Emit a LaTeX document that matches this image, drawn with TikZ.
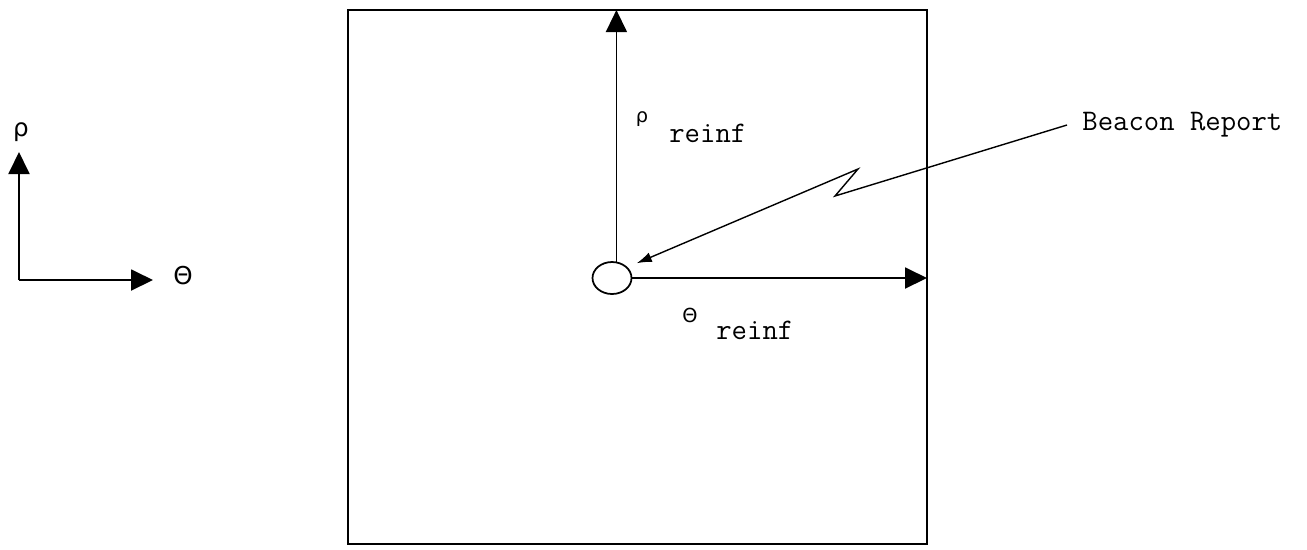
\documentclass[tikz,border=0pt]{standalone}
\usepackage{fontspec}
\newfontfamily\greekfont{DejaVu Sans}
\usetikzlibrary{shapes.geometric, positioning, arrows.meta, calc}

\begin{document}
\begin{tikzpicture}[
    x=0.02cm, y=-0.02cm,
    axis/.style={line width=1.1pt, -{Triangle[length=0.44cm, width=0.42cm]}},
    leader/.style={line width=0.8pt, -{Latex[length=0.3cm, width=0.2cm]}},
    txt/.style={font=\ttfamily\fontsize{17}{19}\selectfont, inner sep=0pt},
    greek/.style={font=\greekfont\fontsize{11}{13}\selectfont, inner sep=0pt},
]
    \useasboundingbox (0,0) rectangle (1307,549);

    % Small reference axes on the left
    \coordinate (origin) at (19,280);
    \coordinate (rho_end) at (19,152);
    \coordinate (theta_end) at (153,280);
    \draw[axis] (origin) -- (rho_end);
    \draw[axis] (origin) -- (theta_end);
    \node[greek, font=\greekfont\fontsize{14}{16}\selectfont] (rho_axis) at (21,132) {ρ};
    \node[greek, font=\greekfont\fontsize{14}{16}\selectfont] (theta_axis) at (183,276) {Θ};

    % Report field
    \draw[line width=1.2pt] (348,10) coordinate (field_nw) rectangle (927,544) coordinate (field_se);
    \node[ellipse, draw, line width=1pt, minimum width=0.78cm, minimum height=0.64cm, inner sep=0pt] (obj) at (612,278) {};

    % Reinforcement axes
    \draw[axis, line width=0.8pt] (obj.75) -- (obj.75 |- field_nw);
    \draw[axis] (obj.east) -- (obj.east -| field_se);

    \node[greek] (rho_sym) at (642,119) {ρ};
    \node[txt, anchor=west] (rho_reinf) at (669,133) {reinf};
    \node[greek] (theta_sym) at (690,315) {Θ};
    \node[txt, anchor=west] (theta_reinf) at (716,330) {reinf};

    % Beacon report leader
    \node[txt, anchor=west] (beacon) at (1082,125) {Beacon Report};
    \coordinate (zig_bot) at (835,196);
    \coordinate (zig_top) at (858,169);
    \draw[leader, shorten >=0.2cm] ([xshift=-0.3cm]beacon.west) -- (zig_bot) -- (zig_top) -- (obj.35);

\end{tikzpicture}
\end{document}
